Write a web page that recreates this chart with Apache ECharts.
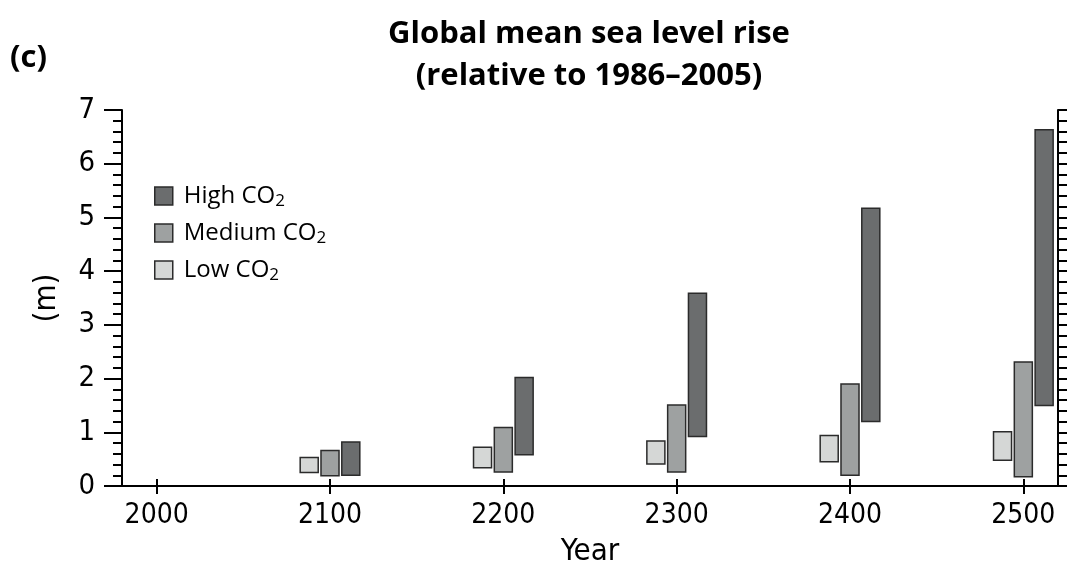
<!DOCTYPE html>
<html>
<head>
<meta charset="utf-8">
<script src="https://cdn.jsdelivr.net/npm/echarts@6/dist/echarts.min.js"></script>
<style>html,body{margin:0;padding:0;background:#fff;}#c{width:1067px;height:565px;}</style>
</head>
<body>
<div id="c"></div>
<script>
var years = [2100, 2200, 2300, 2400, 2500];
var lowMin = [0.25, 0.34, 0.41, 0.45, 0.48];
var lowMax = [0.53, 0.72, 0.84, 0.94, 1.01];
var medMin = [0.19, 0.26, 0.26, 0.20, 0.17];
var medMax = [0.66, 1.09, 1.51, 1.90, 2.31];
var highMin = [0.20, 0.58, 0.92, 1.20, 1.50];
var highMax = [0.82, 2.02, 3.59, 5.17, 6.63];
var xTicks = [2000, 2100, 2200, 2300, 2400, 2500];

var FONT = 'Open Sans';
var NARROW = '"Liberation Sans Narrow", "DejaVu Sans Condensed", "Open Sans"';
var colors = {low: '#d5d7d6', med: '#9ea1a1', high: '#6b6d6e'};
var edge = '#2b2b2b';

function build(mins, maxs) {
  return years.map(function (y, i) { return [y, mins[i], maxs[i]]; });
}
function render(offset, color) {
  var half = 5.2;
  return function (params, api) {
    var p0 = api.coord([api.value(0) + offset - half, api.value(2)]);
    var p1 = api.coord([api.value(0) + offset + half, api.value(1)]);
    return {
      type: 'rect',
      shape: {x: p0[0], y: p0[1], width: p1[0] - p0[0], height: p1[1] - p0[1]},
      style: {fill: color, stroke: edge, lineWidth: 1.5}
    };
  };
}

var chart = echarts.init(document.getElementById('c'));
var axisLineStyle = {color: '#000', width: 2};
chart.setOption({
  animation: false,
  textStyle: {fontFamily: FONT},
  grid: {left: 122, right: 9, top: 110, bottom: 79, containLabel: false, outerBoundsMode: 'none'},
  graphic: [
    {type: 'text', x: 10, y: 58, style: {text: '(c)', font: 'bold 31px ' + FONT, fill: '#000', textVerticalAlign: 'middle'}},
    {type: 'text', x: 589, y: 34, style: {text: 'Global mean sea level rise', font: 'bold 31px ' + FONT, fill: '#000', textAlign: 'center', textVerticalAlign: 'middle'}},
    {type: 'text', x: 589, y: 76, style: {text: '(relative to 1986\u20132005)', font: 'bold 31px ' + FONT, fill: '#000', textAlign: 'center', textVerticalAlign: 'middle'}}
  ],
  legend: {
    orient: 'vertical', left: 154, top: 182, itemWidth: 18, itemHeight: 18, itemGap: 9,
    icon: 'rect', padding: 0,
    data: [
      {name: 'High CO2', itemStyle: {color: colors.high, borderColor: edge, borderWidth: 1.5}},
      {name: 'Medium CO2', itemStyle: {color: colors.med, borderColor: edge, borderWidth: 1.5}},
      {name: 'Low CO2', itemStyle: {color: colors.low, borderColor: edge, borderWidth: 1.5}}
    ],
    formatter: function (n) { return '{t|' + n.slice(0, -1) + '}{s|2}'; },
    textStyle: {
      rich: {
        t: {fontSize: 24, lineHeight: 24, fontFamily: FONT, color: '#000', padding: [0, 0, 0, 6]},
        s: {fontSize: 17, lineHeight: 17, fontFamily: FONT, color: '#000', padding: [11, 0, 0, 0]}
      }
    }
  },
  xAxis: [{
    type: 'value', min: 1980, max: 2520, position: 'bottom',
    name: 'Year', nameLocation: 'middle', nameGap: 50,
    nameTextStyle: {fontSize: 31, color: '#000', fontFamily: NARROW},
    axisLine: {show: true, lineStyle: axisLineStyle},
    axisTick: {show: true, length: 8, lineStyle: {color: '#000', width: 2}, customValues: xTicks},
    axisLabel: {fontSize: 28, color: '#000', margin: 16, customValues: xTicks, fontFamily: NARROW,
      formatter: function (v) { return String(v); }},
    splitLine: {show: false}
  }, {
    type: 'value', min: 1980, max: 2520, position: 'top',
    axisLine: {show: true, lineStyle: axisLineStyle},
    axisTick: {show: true, length: 7, lineStyle: {color: '#000', width: 2}, customValues: xTicks},
    axisLabel: {show: false},
    splitLine: {show: false}
  }],
  yAxis: [{
    type: 'value', min: 0, max: 7, interval: 1, position: 'left',
    name: '(m)', nameLocation: 'middle', nameGap: 60, nameRotate: 90,
    nameTextStyle: {fontSize: 31, color: '#000', fontFamily: NARROW},
    axisLine: {show: true, lineStyle: axisLineStyle},
    axisTick: {show: true, length: 18, lineStyle: {color: '#000', width: 2}},
    minorTick: {show: true, splitNumber: 5, length: 9, lineStyle: {color: '#000', width: 2}},
    axisLabel: {fontSize: 29, color: '#000', margin: 27, fontFamily: NARROW},
    splitLine: {show: false}
  }, {
    type: 'value', min: 0, max: 7, interval: 1, position: 'right',
    axisLine: {show: true, lineStyle: axisLineStyle},
    axisTick: {show: true, length: 18, lineStyle: {color: '#000', width: 2}},
    minorTick: {show: true, splitNumber: 5, length: 9, lineStyle: {color: '#000', width: 2}},
    axisLabel: {show: false},
    splitLine: {show: false}
  }],
  series: [
    {name: 'Low CO2', type: 'custom', renderItem: render(-12, colors.low), data: build(lowMin, lowMax),
     itemStyle: {color: colors.low, borderColor: edge, borderWidth: 1.5}, encode: {x: 0, y: [1, 2]}},
    {name: 'Medium CO2', type: 'custom', renderItem: render(0, colors.med), data: build(medMin, medMax),
     itemStyle: {color: colors.med, borderColor: edge, borderWidth: 1.5}, encode: {x: 0, y: [1, 2]}},
    {name: 'High CO2', type: 'custom', renderItem: render(12, colors.high), data: build(highMin, highMax),
     itemStyle: {color: colors.high, borderColor: edge, borderWidth: 1.5}, encode: {x: 0, y: [1, 2]}}
  ]
});
</script>
</body>
</html>
